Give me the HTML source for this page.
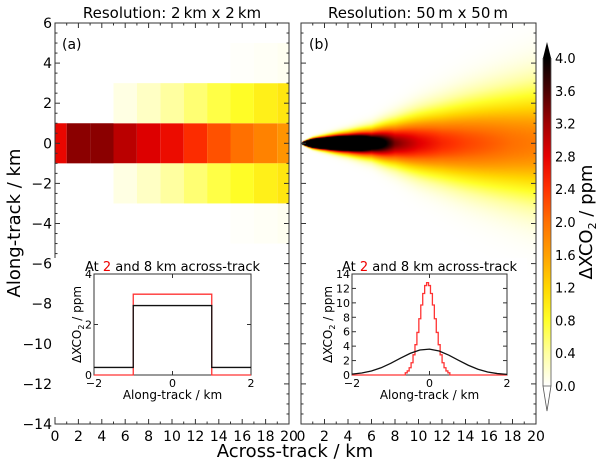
<!DOCTYPE html>
<html><head><meta charset="utf-8">
<style>
body{margin:0;background:#fff;width:600px;height:462px;overflow:hidden;font-family:"Liberation Sans","DejaVu Sans",sans-serif;}
#wrap{position:relative;width:600px;height:462px;}
svg{position:absolute;left:0;top:0;}
canvas{position:absolute;}
text{font-family:"DejaVu Sans","Liberation Sans",sans-serif;fill:#000;}
</style></head>
<body>
<div id="wrap">
<canvas id="plume" width="235" height="401" style="left:301px;top:23px"></canvas>
<svg id="svg" width="600" height="462"></svg>
</div>
<script>
// ---- data ----
const cellCenters = [0,2,4,6,8,10,12,14,16,18,20];
const rowCenter = [2.75,3.3,3.3,3.05,2.85,2.7,2.45,2.2,2.0,1.85,1.7];
const rowMid = [0,0,0,0.12,0.25,0.4,0.55,0.7,0.82,0.95,1.05];
const rowOuter = [0,0,0,0,0,0,0,0,0.02,0.04,0.06];
const plumeX = [0.05,0.5,1,2,4,6,8,10,12,14,16,18,20];
const plumePeak = [60,30,20,13,8,5,3.4,2.85,2.5,2.3,2.15,2.0,1.9];
const plumeSigma = [0.02,0.07,0.12,0.18,0.3,0.44,0.68,0.92,1.12,1.32,1.5,1.68,1.85];
const insetAEdges = [-2,-1,1,2];
const insetARed = [0,3.2,0];
const insetABlack = [0.3,2.75,0.3];
const insetBRedCenters = [-0.6,-0.55,-0.5,-0.45,-0.4,-0.35,-0.3,-0.25,-0.2,-0.15,-0.1,-0.05,0,0.05,0.1,0.15,0.2,0.25,0.3,0.35,0.4,0.45,0.5];
const insetBRed = [0.3,0.56,1.0,1.7,2.8,4.2,5.9,7.8,9.7,11.3,12.4,12.8,12.4,11.3,9.7,7.8,5.9,4.2,2.8,1.7,1.0,0.56,0.3];
const insetBBlackX = [-2,-1.75,-1.5,-1.25,-1,-0.75,-0.5,-0.25,0,0.25,0.5,0.75,1,1.25,1.5,1.75,2];
const insetBBlack = [0.12,0.28,0.56,1.0,1.62,2.33,3.0,3.47,3.59,3.32,2.75,2.04,1.35,0.8,0.42,0.2,0.085];
const xTicks = [0,2,4,6,8,10,12,14,16,18,20];
const yTicks = [6,4,2,0,-2,-4,-6,-8,-10,-12,-14];
const cbTicks = [0,0.4,0.8,1.2,1.6,2.0,2.4,2.8,3.2,3.6,4.0];

// ---- colormap ----
const cmV=[0,0.4,0.8,1.2,1.6,2.0,2.4,2.8,3.2,3.6,4.0];
const cmC=[[255,255,255],[255,255,160],[255,255,40],[255,215,0],[255,160,0],[255,112,0],[255,50,0],[230,0,0],[160,0,0],[75,0,0],[0,0,0]];
function cmap(v){
  if(v<=0) return [255,255,255];
  if(v>=4) return [0,0,0];
  for(let i=0;i<cmV.length-1;i++){ if(v<=cmV[i+1]){const t=(v-cmV[i])/(cmV[i+1]-cmV[i]);
    return cmC[i].map((c,k)=>Math.round(c+(cmC[i+1][k]-c)*t));}}
}
const rgb=a=>`rgb(${a[0]},${a[1]},${a[2]})`;

const NS='http://www.w3.org/2000/svg';
const svg=document.getElementById('svg');
function el(tag,attrs,parent){const e=document.createElementNS(NS,tag);for(const k in attrs)e.setAttribute(k,attrs[k]);(parent||svg).appendChild(e);return e;}

const PA={x0:55,x1:289,y0:23,y1:424};
const PB={x0:301,x1:536,y0:23,y1:424};
function sx(p,v){return p.x0+(v-0)/20*(p.x1-p.x0);}
function sy(p,v){return p.y0+(6-v)/20*(p.y1-p.y0);}

const gA=el('g',{});


function drawRow(vals,yl,yh){
  cellCenters.forEach((c,i)=>{
    if(vals[i]<=0) return;
    const xa=Math.max(sx(PA,c-1),PA.x0), xb=Math.min(sx(PA,c+1),PA.x1);
    const r=el('rect',{x:xa,y:sy(PA,yh),width:xb-xa,height:sy(PA,yl)-sy(PA,yh),fill:rgb(cmap(vals[i]))},gA);
    
    
  });
}
drawRow(rowCenter,-1,1);drawRow(rowMid,1,3);drawRow(rowMid,-3,-1);drawRow(rowOuter,3,5);drawRow(rowOuter,-5,-3);

(function(){
  const cv=document.getElementById('plume');const ctx=cv.getContext('2d');
  const W=cv.width,H=cv.height;const img=ctx.createImageData(W,H);
  function interp(xs,ys,x){if(x<xs[0])return null;for(let i=0;i<xs.length-1;i++){if(x<=xs[i+1]){const t=(x-xs[i])/(xs[i+1]-xs[i]);return ys[i]+(ys[i+1]-ys[i])*t;}}return ys[ys.length-1];}
  for(let px=0;px<W;px++){
    const x=(px+0.5)/W*20;
    const pk=interp(plumeX,plumePeak,x), sg=interp(plumeX,plumeSigma,x);
    for(let py=0;py<H;py++){
      const y=6-(py+0.5)/H*20;
      let v=0; if(pk!==null) v=pk*Math.exp(-y*y/(2*sg*sg));
      const c=cmap(v);const o=(py*W+px)*4;
      img.data[o]=c[0];img.data[o+1]=c[1];img.data[o+2]=c[2];img.data[o+3]=255;
    }
  }
  ctx.putImageData(img,0,0);
})();

function axes(p,name,labelY){
  const g=el('g',{});
  el('rect',{x:p.x0,y:p.y0,width:p.x1-p.x0,height:p.y1-p.y0,fill:'none',stroke:'#333','stroke-width':1},g);
  for(let v=0;v<=20;v++){const x=sx(p,v);const L=v%2===0?5:2.5;
    el('line',{x1:x,x2:x,y1:p.y1,y2:p.y1-L,stroke:'#333'},g);el('line',{x1:x,x2:x,y1:p.y0,y2:p.y0+L,stroke:'#333'},g);}
  for(let v=-14;v<=6;v+=0.5){const y=sy(p,v);const L=(v%2===0)?5:2.5;
    el('line',{x1:p.x0,x2:p.x0+L,y1:y,y2:y,stroke:'#333'},g);el('line',{x1:p.x1,x2:p.x1-L,y1:y,y2:y,stroke:'#333'},g);}
  xTicks.forEach(v=>{const t=el('text',{x:sx(p,v),y:p.y1+17,'font-size':14,'text-anchor':'middle'},g);t.textContent=v;
    });
  if(labelY) yTicks.forEach(v=>{const t=el('text',{x:p.x0-3,y:sy(p,v)+5,'font-size':14,'text-anchor':'end'},g);t.textContent=String(v).replace('-','\u2212');
    });
}
axes(PA,'panel-a-axes',true);axes(PB,'panel-b-axes',false);

function txt(x,y,s,size,name,extra){const t=el('text',Object.assign({x:x,y:y,'font-size':size},extra||{}));t.textContent=s;return t;}
txt(172,18,'Resolution: 2\u2009km x 2\u2009km',15,'panel-a-title',{'text-anchor':'middle'});
txt(418,18,'Resolution: 50\u2009m x 50\u2009m',15,'panel-b-title',{'text-anchor':'middle'});
txt(62,49,'(a)',14,'panel-a-label');txt(309,49,'(b)',14,'panel-b-label');
txt(295,457,'Across-track / km',18,'x-axis-title',{'text-anchor':'middle'});
txt(20,223,'Along-track / km',18,'y-axis-title',{'text-anchor':'middle',transform:'rotate(-90 20 223)'});

function inset(x0,x1,y0,y1,ymax,yt,name){
  const g=el('g',{});
  el('rect',{x:x0-40,y:y0-16,width:x1-x0+60,height:y1-y0+58,fill:'#fff'},g);
  el('rect',{x:x0,y:y0,width:x1-x0,height:y1-y0,fill:'#fff',stroke:'#333'},g);
  const fx=v=>x0+(v+2)/4*(x1-x0), fy=v=>y1-v/ymax*(y1-y0);
  [-2,0,2].forEach(v=>{el('line',{x1:fx(v),x2:fx(v),y1:y1,y2:y1-4,stroke:'#333'},g);el('line',{x1:fx(v),x2:fx(v),y1:y0,y2:y0+4,stroke:'#333'},g);
    const t=el('text',{x:fx(v),y:y1+12,'font-size':11,'text-anchor':'middle'},g);t.textContent=String(v).replace('-','\u2212');});
  yt.forEach(v=>{el('line',{x1:x0,x2:x0+4,y1:fy(v),y2:fy(v),stroke:'#333'},g);el('line',{x1:x1,x2:x1-4,y1:fy(v),y2:fy(v),stroke:'#333'},g);
    const t=el('text',{x:x0-2,y:fy(v)+4,'font-size':11,'text-anchor':'end'},g);t.textContent=v;});
  const tt=el('text',{x:(x0+x1)/2,y:y0-3,'font-size':13,'text-anchor':'middle'},g);
  tt.innerHTML='At <tspan fill="#e00">2</tspan> and 8 km across-track';
  
  const xl=el('text',{x:(x0+x1)/2,y:y1+24,'font-size':12,'text-anchor':'middle'},g);xl.textContent='Along-track / km';
  
  const cy=(y0+y1)/2, cx=x0-(ymax>5?20:13);
  const yl=el('text',{x:cx,y:cy,'font-size':12,'text-anchor':'middle',transform:`rotate(-90 ${cx} ${cy})`},g);
  yl.innerHTML='\u0394XCO<tspan font-size="8" dy="3">2</tspan><tspan dy="-3"> / ppm</tspan>';
  
  return {g,fx,fy};
}
const ia=inset(94,251,274,375,4,[0,2,4],'inset-a');
function stepPath(edges,vals,fx,fy){let d=`M${fx(edges[0])},${fy(vals[0])}`;
  for(let i=0;i<vals.length;i++){d+=`L${fx(edges[i])},${fy(vals[i])}L${fx(edges[i+1])},${fy(vals[i])}`;}return d;}
let p=el('path',{d:stepPath(insetAEdges,insetARed,ia.fx,ia.fy),fill:'none',stroke:'#f33','stroke-width':1.3},ia.g);

p=el('path',{d:stepPath(insetAEdges,insetABlack,ia.fx,ia.fy),fill:'none',stroke:'#111','stroke-width':1.3},ia.g);


const ib=inset(352,507,274,375,14,[0,2,4,6,8,10,12,14],'inset-b');
const redEdges=insetBRedCenters.map(c=>c-0.025);redEdges.push(insetBRedCenters[insetBRedCenters.length-1]+0.025);
let d=`M${ib.fx(-2)},${ib.fy(0)}L${ib.fx(redEdges[0])},${ib.fy(0)}`;
insetBRed.forEach((v,i)=>{d+=`L${ib.fx(redEdges[i])},${ib.fy(v)}L${ib.fx(redEdges[i+1])},${ib.fy(v)}`;});
d+=`L${ib.fx(redEdges[redEdges.length-1])},${ib.fy(0)}L${ib.fx(2)},${ib.fy(0)}`;
p=el('path',{d:d,fill:'none',stroke:'#f33','stroke-width':1.3},ib.g);

p=el('path',{d:'M'+insetBBlackX.map((x,i)=>`${ib.fx(x)},${ib.fy(insetBBlack[i])}`).join('L'),fill:'none',stroke:'#111','stroke-width':1.3},ib.g);


const cb=el('g',{});
const defs=el('defs',{},cb);const lg=el('linearGradient',{id:'cbg',x1:0,y1:1,x2:0,y2:0},defs);
cmV.forEach((v,i)=>el('stop',{offset:v/4,'stop-color':rgb(cmC[i])},lg));
const CB={x0:543,x1:551,y0:58,y1:386};
el('rect',{x:CB.x0,y:CB.y0,width:CB.x1-CB.x0,height:CB.y1-CB.y0,fill:'url(#cbg)'},cb);
el('polygon',{points:`${CB.x0},${CB.y0} ${CB.x1},${CB.y0} ${(CB.x0+CB.x1)/2},42`,fill:'#000'},cb);
el('polygon',{points:`${CB.x0},${CB.y1} ${CB.x1},${CB.y1} ${(CB.x0+CB.x1)/2},411`,fill:'#fff',stroke:'#555','stroke-width':0.8},cb);
el('path',{d:`M${CB.x0},${CB.y0}L${CB.x0},${CB.y1}M${CB.x1},${CB.y0}L${CB.x1},${CB.y1}`,stroke:'#555','stroke-width':0.8},cb);
cbTicks.forEach(v=>{const y=CB.y1-v/4*(CB.y1-CB.y0);
  const t=el('text',{x:555,y:y+5,'font-size':13},cb);t.textContent=v.toFixed(1);
  });
const cl=el('text',{x:592,y:222,'font-size':18,'text-anchor':'middle',transform:'rotate(-90 592 222)'},cb);
cl.innerHTML='\u0394XCO<tspan font-size="11" dy="4">2</tspan><tspan dy="-4"> / ppm</tspan>';

</script>
</body></html>
